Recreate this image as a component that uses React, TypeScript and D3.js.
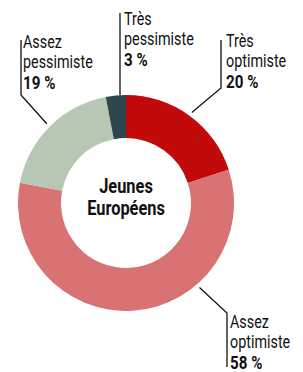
import React from 'react';
import * as d3 from 'd3';

const categories = ['Très optimiste', 'Assez optimiste', 'Assez pessimiste', 'Très pessimiste'];
const values = [20, 58, 19, 3];
const colors = ['#c30a0a', '#d87273', '#b7c7b3', '#2e4650'];

const width = 303;
const height = 372;
const cx = 126;
const cy = 203;
const outerR = 108;
const innerR = 65;
const font = 'Roboto, "Noto Sans", sans-serif';
const squeeze = 0.82;

// label placement: text start, first baseline, leader elbow, angle where the leader meets the ring
const labelLayout = [
    {x: 226, y: 47, elbow: [221, 88], top: 40, angle: 36},
    {x: 230, y: 328, elbow: [227, 313], top: 367, angle: 139},
    {x: 23, y: 48, elbow: [21, 95], top: 40, angle: 315},
    {x: 124, y: 25, elbow: [120, 95], top: 13, angle: null},
];

const App = () => {

    const pie = d3.pie<number>().value(d => d).sort(null);
    const arcs = pie(values);
    const arc = d3.arc<d3.PieArcDatum<number>>().innerRadius(innerR).outerRadius(outerR);

    const rad = (a: number) => (a * Math.PI) / 180;

    return (
        <svg width={width} height={height} style={{position: 'absolute', left: 0, top: 0, background: '#fff'}}>
            <g transform={`translate(${cx},${cy})`}>
                {arcs.map((a, i) => (
                    <path key={i} d={arc(a) || ''} fill={colors[i]} />
                ))}
            </g>
            <g transform={`translate(${cx},0) scale(0.82,1)`}>
                <text x={0} y={193} textAnchor='middle' fontFamily={font} fontWeight='bold' fontSize={20} fill='#111'>Jeunes</text>
                <text x={0} y={215} textAnchor='middle' fontFamily={font} fontWeight='bold' fontSize={20} fill='#111'>Européens</text>
            </g>
            {categories.map((c, i) => {
                const l = labelLayout[i];
                const [w1, w2] = c.split(' ');
                const [ex, ey] = l.elbow;
                let end: number[];
                if (l.angle === null) {
                    end = [ex, cy - Math.sqrt(outerR * outerR - (ex - cx) * (ex - cx))];
                } else {
                    const r = outerR + 4;
                    end = [cx + r * Math.sin(rad(l.angle)), cy - r * Math.cos(rad(l.angle))];
                }
                const pts = l.angle === null ? [[ex, l.top], end] : [[ex, l.top], [ex, ey], end];
                return (
                    <g key={c}>
                        <path d={d3.line()(pts as [number, number][]) || ''} fill='none' stroke='#111' strokeWidth={1.3} />
                        <g transform={`translate(${l.x},${l.y}) scale(${squeeze},1)`}>
                            <text fontFamily={font} fontSize={17.5} fill='#111'>
                                <tspan x={0} y={0}>{w1}</tspan>
                                <tspan x={0} y={20.5}>{w2}</tspan>
                                <tspan x={0} y={41} fontWeight='bold' fontSize={18.5}>{values[i]} %</tspan>
                            </text>
                        </g>
                    </g>
                );
            })}
        </svg>
    );
}

export default App;
